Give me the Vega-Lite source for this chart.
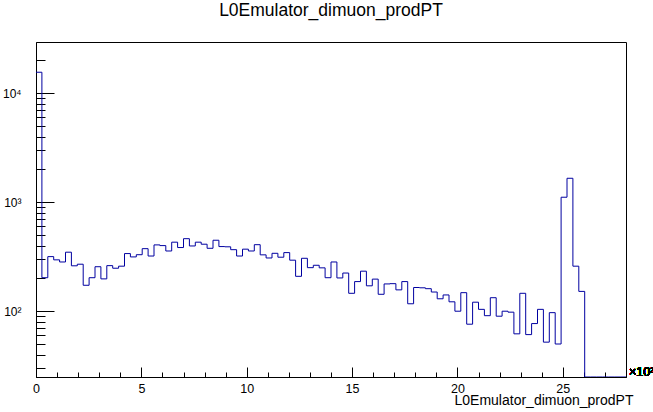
{
  "$schema": "https://vega.github.io/schema/vega-lite/v6.json",
  "autosize": "none",
  "width": 590,
  "height": 335,
  "padding": {"left": 36, "top": 42, "right": 27, "bottom": 35},
  "background": "white",
  "title": {"text": "L0Emulator_dimuon_prodPT", "font": "Liberation Sans", "fontSize": 17.5, "fontWeight": "normal", "color": "black", "anchor": "middle", "offset": 23},
  "config": {
    "view": {"stroke": "black", "strokeWidth": 1},
    "axis": {"domainColor": "black", "tickColor": "black", "labelColor": "black", "titleColor": "black", "grid": false, "labelFont": "Liberation Sans", "titleFont": "Liberation Sans", "labelFontSize": 12.5, "titleFontSize": 14, "titleFontWeight": "normal"}
  },
  "data": {"values": [
    {"x": 0, "n": 15600}, {"x": 0.28, "n": 203}, {"x": 0.56, "n": 317}, {"x": 0.84, "n": 296}, {"x": 1.12, "n": 283},
    {"x": 1.4, "n": 348}, {"x": 1.68, "n": 261}, {"x": 1.96, "n": 270}, {"x": 2.24, "n": 173}, {"x": 2.52, "n": 203},
    {"x": 2.8, "n": 256}, {"x": 3.08, "n": 198}, {"x": 3.36, "n": 262}, {"x": 3.64, "n": 248}, {"x": 3.92, "n": 259},
    {"x": 4.2, "n": 338}, {"x": 4.48, "n": 315}, {"x": 4.76, "n": 330}, {"x": 5.04, "n": 375}, {"x": 5.32, "n": 321},
    {"x": 5.6, "n": 406}, {"x": 5.88, "n": 400}, {"x": 6.16, "n": 357}, {"x": 6.44, "n": 430}, {"x": 6.72, "n": 384},
    {"x": 7.0, "n": 463}, {"x": 7.28, "n": 397}, {"x": 7.56, "n": 430}, {"x": 7.84, "n": 412}, {"x": 8.12, "n": 378},
    {"x": 8.4, "n": 448}, {"x": 8.68, "n": 392}, {"x": 8.96, "n": 390}, {"x": 9.24, "n": 367}, {"x": 9.52, "n": 321},
    {"x": 9.8, "n": 371}, {"x": 10.08, "n": 357}, {"x": 10.36, "n": 408}, {"x": 10.64, "n": 329}, {"x": 10.92, "n": 308},
    {"x": 11.2, "n": 340}, {"x": 11.48, "n": 313}, {"x": 11.76, "n": 345}, {"x": 12.04, "n": 294}, {"x": 12.32, "n": 209},
    {"x": 12.6, "n": 306}, {"x": 12.88, "n": 251}, {"x": 13.16, "n": 264}, {"x": 13.44, "n": 250}, {"x": 13.72, "n": 203},
    {"x": 14.0, "n": 283}, {"x": 14.28, "n": 202}, {"x": 14.56, "n": 224}, {"x": 14.84, "n": 146}, {"x": 15.12, "n": 187},
    {"x": 15.4, "n": 233}, {"x": 15.68, "n": 171}, {"x": 15.96, "n": 197}, {"x": 16.24, "n": 143}, {"x": 16.52, "n": 178},
    {"x": 16.8, "n": 179}, {"x": 17.08, "n": 157}, {"x": 17.36, "n": 187}, {"x": 17.64, "n": 117}, {"x": 17.92, "n": 165},
    {"x": 18.2, "n": 164}, {"x": 18.48, "n": 161}, {"x": 18.76, "n": 150}, {"x": 19.04, "n": 130}, {"x": 19.32, "n": 141},
    {"x": 19.6, "n": 122}, {"x": 19.88, "n": 100}, {"x": 20.16, "n": 148}, {"x": 20.44, "n": 76}, {"x": 20.72, "n": 121},
    {"x": 21.0, "n": 104}, {"x": 21.28, "n": 91}, {"x": 21.56, "n": 133}, {"x": 21.84, "n": 90}, {"x": 22.12, "n": 100},
    {"x": 22.4, "n": 98}, {"x": 22.68, "n": 62}, {"x": 22.96, "n": 146}, {"x": 23.24, "n": 61}, {"x": 23.52, "n": 77},
    {"x": 23.8, "n": 104}, {"x": 24.08, "n": 52}, {"x": 24.36, "n": 97}, {"x": 24.64, "n": 50}, {"x": 24.92, "n": 1112},
    {"x": 25.2, "n": 1660}, {"x": 25.48, "n": 259}, {"x": 25.76, "n": 152}, {"x": 26.04, "n": 0}, {"x": 26.32, "n": 0},
    {"x": 26.6, "n": 0}, {"x": 26.88, "n": 0}, {"x": 27.16, "n": 0}, {"x": 27.44, "n": 0}, {"x": 27.72, "n": 0},
    {"x": 28.0, "n": 0}
  ]},
  "resolve": {"axis": {"x": "independent"}},
  "layer": [
    {
      "mark": {"type": "line", "interpolate": "step-after", "color": "#0000a0", "strokeWidth": 1, "clip": true, "invalid": "show"},
      "encoding": {
        "x": {"field": "x", "type": "quantitative",
          "scale": {"domain": [0, 28], "nice": false, "zero": false},
          "axis": {"orient": "bottom", "values": [0, 5, 10, 15, 20, 25], "format": "d",
            "tickSize": -10, "labelPadding": 15, "labelFlush": false, "labelOverlap": false,
            "title": "L0Emulator_dimuon_prodPT", "titleAnchor": "end", "titleAlign": "right", "titleBaseline": "alphabetic", "titleX": 597, "titleY": 27}},
        "y": {"field": "n", "type": "quantitative",
          "scale": {"type": "log", "domain": [24.9, 29560], "nice": false, "clamp": true},
          "axis": {"values": [30,40,50,60,70,80,90,100,200,300,400,500,600,700,800,900,1000,2000,3000,4000,5000,6000,7000,8000,9000,10000,20000],
            "labelExpr": "datum.value == 100 ? '10²' : datum.value == 1000 ? '10³' : datum.value == 10000 ? '10⁴' : ''",
            "labelFontSize": 12,
            "tickSize": {"condition": {"test": "datum.value == 100 || datum.value == 1000 || datum.value == 10000", "value": -18}, "value": -9},
            "labelPadding": 33, "labelOverlap": false, "labelFlush": false, "title": null}}
      }
    },
    {
      "mark": {"type": "text", "text": "×10³", "align": "left", "baseline": "middle", "font": "Liberation Sans", "fontSize": 12.5, "color": "black", "dx": 3, "dy": -5},
      "encoding": {
        "x": {"datum": 28, "type": "quantitative",
          "axis": {"orient": "bottom", "values": [0,1,2,3,4,5,6,7,8,9,10,11,12,13,14,15,16,17,18,19,20,21,22,23,24,25,26,27,28],
            "labels": false, "tickSize": -5, "domain": false, "title": null}},
        "y": {"datum": 24.9, "type": "quantitative"}
      }
    }
  ]
}
